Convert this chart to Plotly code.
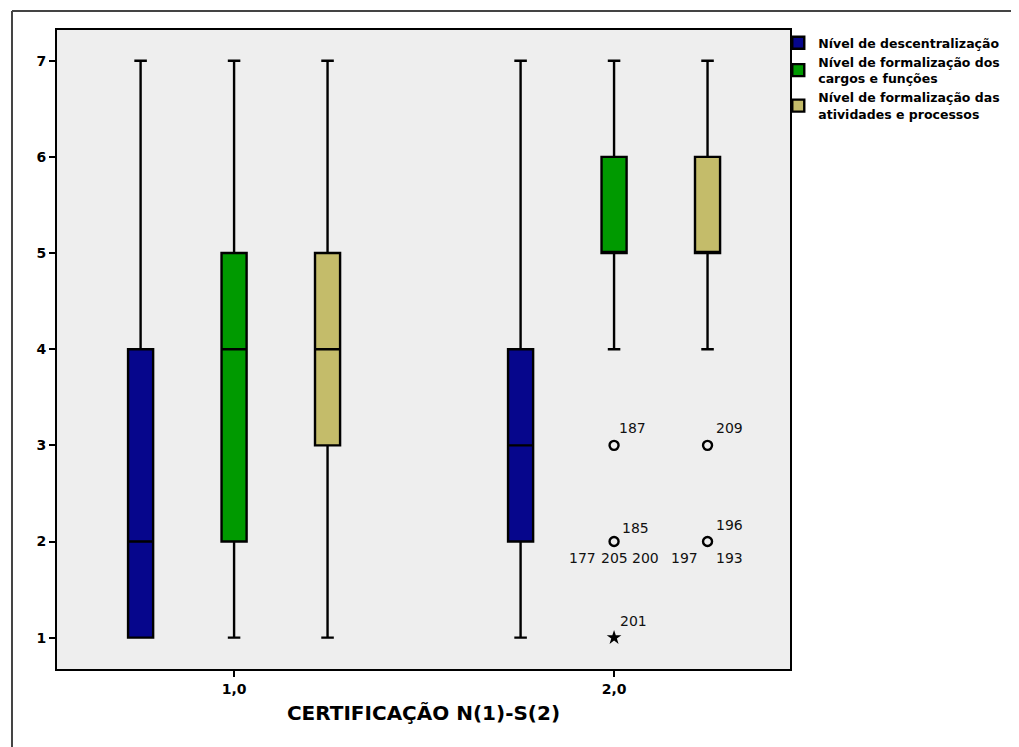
import plotly.graph_objects as go

# ---- data ----
categories = [1.0, 2.0]
tick_labels = ["1,0", "2,0"]
series_names = [
    "Nível de descentralização",
    "Nível de formalização dos<br>cargos e funções",
    "Nível de formalização das<br>atividades e processos",
]
lower = [[1, 1], [1, 4], [1, 4]]
q1 = [[1, 2], [2, 5], [3, 5]]
median = [[2, 3], [4, 5], [4, 5]]
q3 = [[4, 4], [5, 6], [5, 6]]
upper = [[7, 7], [7, 7], [7, 7]]

# outliers (series index, category, value)
outlier_series = [1, 1, 2, 2]
outlier_cat = [2.0, 2.0, 2.0, 2.0]
outlier_val = [3, 2, 3, 2]
extreme_series = [1]
extreme_cat = [2.0]
extreme_val = [1]

# case labels: (series, value, text, anchor, xshift, yshift)
outlier_labels = [
    (1, 3, "187", "left", 3, 17),
    (1, 2, "185", "left", 6, 14),
    (1, 2, "177", "right", -16, -16),
    (1, 2, "205", "center", 0, -16),
    (1, 2, "200", "left", 16, -16),
    (2, 3, "209", "left", 6, 17),
    (2, 2, "196", "left", 6, 17),
    (2, 2, "197", "right", -8, -16),
    (2, 2, "193", "left", 6, -16),
    (1, 1, "201", "left", 4, 17),
]

# ---- styles ----
colors = ["#06068c", "#009a00", "#c4bc6a"]
offsets = [-0.246, 0.0, 0.246]
box_width = 0.066
FONT = "DejaVu Sans, Verdana, sans-serif"

fig = go.Figure()
for i, name in enumerate(series_names):
    xs = [c + offsets[i] for c in categories]
    fig.add_trace(go.Box(
        x=xs, q1=q1[i], median=median[i], q3=q3[i],
        lowerfence=lower[i], upperfence=upper[i],
        name=name, width=box_width, whiskerwidth=0.5,
        fillcolor=colors[i], line=dict(color="black", width=2.4),
        boxpoints=False, hoverinfo="skip",
    ))

fig.add_trace(go.Scatter(
    x=[c + offsets[s] for s, c in zip(outlier_series, outlier_cat)],
    y=outlier_val, mode="markers", showlegend=False,
    marker=dict(symbol="circle-open", size=9, color="black", line=dict(width=2.4)),
))
fig.add_trace(go.Scatter(
    x=[c + offsets[s] for s, c in zip(extreme_series, extreme_cat)],
    y=extreme_val, mode="markers", showlegend=False,
    marker=dict(symbol="star", size=11, color="black"),
))

for s, v, t, anc, dx, dy in outlier_labels:
    fig.add_annotation(
        x=2.0 + offsets[s], y=v, text=t, showarrow=False,
        xanchor=anc, yanchor="middle", xshift=dx, yshift=dy,
        font=dict(family=FONT, size=14, color="#111"),
    )

# outer frame
fig.add_shape(type="line", xref="paper", yref="paper",
              x0=-0.0614, x1=-0.0614, y0=1.0297, y1=-0.3,
              line=dict(color="#444", width=2))
fig.add_shape(type="line", xref="paper", yref="paper",
              x0=-0.0614, x1=1.5, y0=1.0297, y1=1.0297,
              line=dict(color="#444", width=2))

fig.update_layout(
    width=1011, height=739,
    margin=dict(l=49, r=229, t=22, b=78, autoexpand=False),
    paper_bgcolor="white", plot_bgcolor="#eeeeee",
    showlegend=True,
    legend=dict(x=0.984, y=1.003, xanchor="left", yanchor="top",
                font=dict(family=FONT, size=12.5, color="black", weight="bold"),
                itemwidth=30, bgcolor="rgba(0,0,0,0)", tracegroupgap=0),
    xaxis=dict(range=[0.534, 2.463], tickvals=categories, ticktext=tick_labels,
               showgrid=False, zeroline=False, ticks="outside", ticklen=6,
               tickwidth=2, tickcolor="black", showline=True, linecolor="black",
               linewidth=2, mirror=True,
               tickfont=dict(family=FONT, size=14, color="black", weight="bold"),
               title=dict(text="CERTIFICAÇÃO N(1)-S(2)", standoff=10,
                          font=dict(family=FONT, size=20, color="black", weight="bold"))),
    yaxis=dict(range=[0.674, 7.32], tickvals=[1, 2, 3, 4, 5, 6, 7],
               showgrid=False, zeroline=False, ticks="outside", ticklen=6,
               tickwidth=2, tickcolor="black", showline=True, linecolor="black",
               linewidth=2, mirror=True,
               tickfont=dict(family=FONT, size=14, color="black", weight="bold")),
)

fig.write_html("out.html")
